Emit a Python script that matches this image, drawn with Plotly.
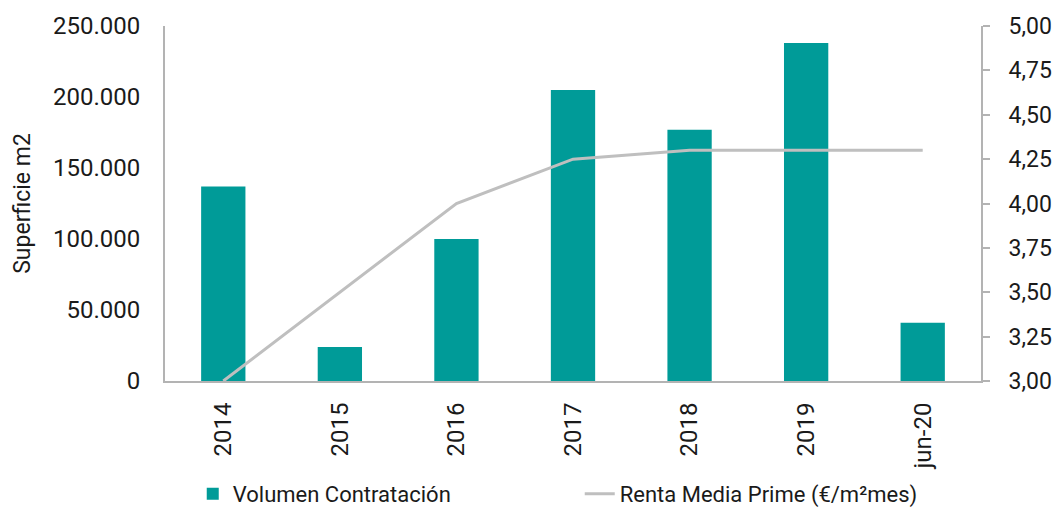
import plotly.graph_objects as go

categories = ["2014", "2015", "2016", "2017", "2018", "2019", "jun-20"]
volumen = [137000, 24000, 100000, 205000, 177000, 238000, 41000]
renta = [3.00, 3.50, 4.00, 4.25, 4.30, 4.30, 4.30]

teal = "#009B98"
grey_line = "#BFBFBF"
axis_col = "#B3B3B3"
font_fam = "Roboto"

fig = go.Figure()
fig.add_trace(go.Bar(
    x=categories, y=volumen, name="Volumen Contratación",
    marker=dict(color=teal, line=dict(width=0)), width=0.38,
))
fig.add_trace(go.Scatter(
    x=categories, y=renta, name="Renta Media Prime (€/m²mes)",
    mode="lines", line=dict(color=grey_line, width=3), yaxis="y2",
))

# page body has an 8px margin, so the figure is sized/offset to compensate
fig.update_layout(
    width=1053, height=502,
    margin=dict(l=157, r=80, t=18, b=129, autoexpand=False),
    paper_bgcolor="white", plot_bgcolor="white",
    separators=",.",
    font=dict(family=font_fam, size=24, color="#1a1a1a"),
    showlegend=True,
    legend=dict(
        orientation="h", x=0.034, xanchor="left", y=-0.318, yanchor="middle",
        font=dict(size=22, family=font_fam), entrywidth=342, entrywidthmode="pixels",
        traceorder="normal",
    ),
    xaxis=dict(
        type="category", showline=True, linecolor=axis_col, linewidth=2,
        ticks="", tickangle=-90, ticklabelstandoff=10, automargin=False,
        tickfont=dict(size=24), showgrid=False, zeroline=False,
    ),
    yaxis=dict(
        range=[0, 250000], dtick=50000, tickformat=",d", automargin=False,
        showline=True, linecolor=axis_col, linewidth=2, ticks="",
        showgrid=False, zeroline=False, ticklabelstandoff=18,
        tickfont=dict(size=24),
        title=dict(text="Superficie m2", font=dict(size=23), standoff=16),
    ),
    yaxis2=dict(
        overlaying="y", side="right", range=[3, 5], dtick=0.25, tickformat=".2f",
        showline=True, linecolor=axis_col, linewidth=2, automargin=False,
        ticks="outside", ticklen=7, tickcolor=axis_col, tickwidth=2,
        showgrid=False, zeroline=False, ticklabelstandoff=14,
        tickfont=dict(size=23),
    ),
    bargap=0.62,
)

fig.write_html("out.html")
